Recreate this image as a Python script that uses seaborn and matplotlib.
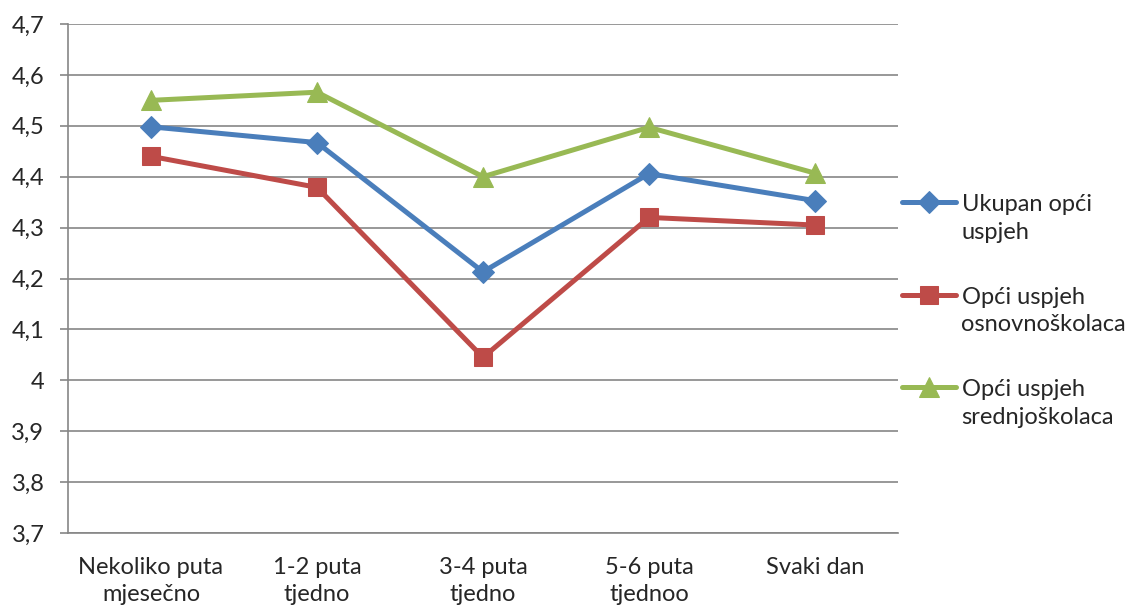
import matplotlib
matplotlib.use('Agg')
import matplotlib.pyplot as plt
import seaborn as sns
import numpy as np

categories = ['Nekoliko puta\nmjesečno', '1-2 puta\ntjedno', '3-4 puta\ntjedno',
              '5-6 puta\ntjednoo', 'Svaki dan']
ukupan = [4.498, 4.467, 4.213, 4.406, 4.353]
osnovna = [4.440, 4.379, 4.045, 4.320, 4.305]
srednja = [4.550, 4.566, 4.400, 4.497, 4.407]

y_ticks = [3.7, 3.8, 3.9, 4.0, 4.1, 4.2, 4.3, 4.4, 4.5, 4.6, 4.7]
y_labels = ['3,7', '3,8', '3,9', '4', '4,1', '4,2', '4,3', '4,4', '4,5', '4,6', '4,7']

series_names = ['Ukupan opći\nuspjeh', 'Opći uspjeh\nosnovnoškolaca', 'Opći uspjeh\nsrednjoškolaca']

sns.set_style('white')
plt.rcParams['font.family'] = ['Lato', 'DejaVu Sans']
fs = 17

fig = plt.figure(figsize=(11.34, 6.11), dpi=100)
ax = fig.add_axes([68/1134, 1-533/611, 830/1134, 509/611])

grid_col = '#868686'
x = np.arange(len(categories))
sns.lineplot(x=x, y=ukupan, color='#4A7EBB', linewidth=3.6, marker='D', markersize=11.5,
             markeredgecolor='#4A7EBB', label=series_names[0], sort=False, ax=ax)
sns.lineplot(x=x, y=osnovna, color='#BE4B48', linewidth=3.6, marker='s', markersize=13,
             markeredgecolor='#BE4B48', label=series_names[1], sort=False, ax=ax)
sns.lineplot(x=x, y=srednja, color='#98B954', linewidth=3.6, marker='^', markersize=14.5,
             markeredgecolor='#98B954', label=series_names[2], sort=False, ax=ax)

ax.set_xlim(-0.5, len(categories) - 0.5)
ax.set_ylim(3.7, 4.7)
ax.set_yticks(y_ticks)
ax.set_yticklabels(y_labels)
ax.set_xticks(x)
ax.set_xticklabels(categories, linespacing=1.4)
ax.set_xticks(np.arange(-0.5, len(categories)), minor=True)
ax.tick_params(axis='x', which='major', length=0, pad=17, labelsize=fs)
ax.tick_params(axis='x', which='minor', length=6, width=1.2, color=grid_col, direction='out')
ax.tick_params(axis='y', which='major', length=6, width=1.2, color=grid_col, pad=11, labelsize=fs, left=True)

ax.grid(axis='y', color=grid_col, linewidth=1.2)
ax.set_axisbelow(True)
for s in ['top', 'right']:
    ax.spines[s].set_visible(False)
for s in ['left', 'bottom']:
    ax.spines[s].set_color(grid_col)
    ax.spines[s].set_linewidth(1.2)

leg = ax.legend(loc='center left', bbox_to_anchor=(902/1134, 1-311/611), bbox_transform=fig.transFigure,
                frameon=False, fontsize=fs, handlelength=2.3, handletextpad=0.22, labelspacing=1.85,
                borderaxespad=0, borderpad=0)
for t in leg.get_texts():
    t.set_linespacing(1.4)

# excel puts the legend line next to the first line of a two-line label
for col in leg._legend_handle_box.get_children():
    for item in col.get_children():
        box = item.get_children()[0]
        for art in box.get_children():
            art.set_ydata(np.asarray(art.get_ydata()) + 11.8)

fig.savefig('out.png', dpi=100)
